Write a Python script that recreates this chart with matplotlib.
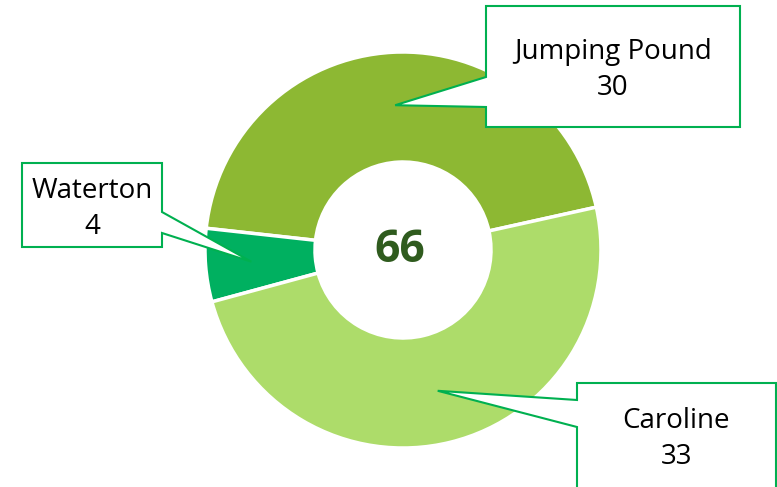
import numpy as np
import matplotlib
matplotlib.use('Agg')
import matplotlib.pyplot as plt
from matplotlib.patches import Polygon

labels = ['Jumping Pound', 'Waterton', 'Caroline']
values = [30, 4, 33]
colors = ['#8DB833', '#00B060', '#ADDC6A']
center_label = '66'

# callout boxes in pixel space (x0, y0 top, x1, y1 bottom), notch side, notch y-range, text centre y
boxes = {
    'Jumping Pound': dict(box=(486, 6, 740, 127), side='left', notch=(77, 107), ty=70),
    'Waterton': dict(box=(22, 163, 162, 247), side='right', notch=(212, 233), ty=209),
    'Caroline': dict(box=(577, 383, 776, 500), side='left', notch=(400, 427), ty=439),
}

W, H = 777, 487
fig = plt.figure(figsize=(W / 100, H / 100), dpi=100)
ax = fig.add_axes([0, 0, 1, 1])

cx, cy = 403, H - 250
r_out, r_in = 198, 88
start = 12.5

wedges, _ = ax.pie(values, colors=colors, startangle=start, counterclock=True,
                   center=(cx, cy), radius=r_out, frame=True,
                   wedgeprops=dict(width=r_out - r_in, edgecolor='white', linewidth=2.5))
ax.set_xlim(0, W)
ax.set_ylim(0, H)
ax.set_aspect('equal')
ax.axis('off')

ax.text(cx - 3, H - 250, center_label, ha='center', va='center', fontsize=32,
        fontweight='bold', color='#2F5B1E', family='Open Sans')

border = '#00B050'
Y = lambda y: H - y
for w, lab, val in zip(wedges, labels, values):
    mid = np.deg2rad((w.theta1 + w.theta2) / 2)
    rr = 145 if lab != 'Waterton' else 152
    tip = (cx + rr * np.cos(mid), cy + rr * np.sin(mid))
    b = boxes[lab]
    x0, y0, x1, y1 = b['box']
    n0, n1 = b['notch']
    if b['side'] == 'left':
        pts = [(x0, Y(y0)), (x1, Y(y0)), (x1, Y(y1)), (x0, Y(y1)),
               (x0, Y(n1)), tip, (x0, Y(n0))]
    else:
        pts = [(x0, Y(y0)), (x1, Y(y0)), (x1, Y(n0)), tip, (x1, Y(n1)),
               (x1, Y(y1)), (x0, Y(y1))]
    ax.add_patch(Polygon(pts, closed=True, facecolor='white', edgecolor=border,
                         linewidth=1.5, zorder=5, clip_on=False))
    tx = (x0 + x1) / 2
    ax.text(tx, Y(b['ty']), f'{lab}\n{val}', ha='center', va='center', fontsize=20,
            linespacing=1.38, color='black', family='Open Sans', zorder=6)

fig.savefig('out.png', dpi=100)
